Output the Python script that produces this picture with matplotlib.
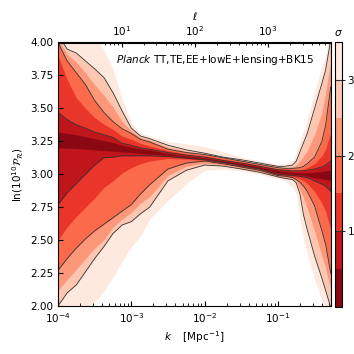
import matplotlib
matplotlib.use("Agg")
import matplotlib.pyplot as plt
import numpy as np
from matplotlib.colors import ListedColormap, BoundaryNorm
from matplotlib.cm import ScalarMappable
from matplotlib.ticker import LogLocator, NullFormatter, FormatStrFormatter

plt.rcParams["font.size"] = 7.5
plt.rcParams["mathtext.fontset"] = "dejavusans"

# log10 of the k nodes [Mpc^-1]
logk = [-4, -3.875, -3.75, -3.625, -3.5, -3.375, -3.25, -3.125, -3, -2.875,
        -2.75, -2.5, -2.25, -2, -1.75, -1.5, -1.25, -1, -0.9, -0.8, -0.75,
        -0.7, -0.65, -0.6, -0.5, -0.4, -0.35, -0.28]

# upper edges of the sigma regions, ln(10^10 P_R)
up05 = [3.32, 3.31, 3.30, 3.285, 3.27, 3.255, 3.24, 3.22, 3.205, 3.192,
        3.185, 3.158, 3.138, 3.125, 3.10, 3.08, 3.055, 3.03, 3.02, 3.015,
        3.012, 3.01, 3.01, 3.01, 3.015, 3.02, 3.025, 3.03]
up10 = [3.47, 3.415, 3.375, 3.35, 3.32, 3.30, 3.28, 3.235, 3.22, 3.20,
        3.19, 3.165, 3.145, 3.13, 3.105, 3.085, 3.06, 3.035, 3.03, 3.025,
        3.025, 3.025, 3.027, 3.03, 3.04, 3.055, 3.07, 3.10]
up15 = [3.90, 3.72, 3.58, 3.50, 3.43, 3.38, 3.34, 3.29, 3.265, 3.235,
        3.215, 3.18, 3.155, 3.14, 3.115, 3.093, 3.068, 3.04, 3.04, 3.035,
        3.035, 3.035, 3.04, 3.05, 3.08, 3.14, 3.19, 3.32]
up20 = [4.0, 3.86, 3.77, 3.68, 3.56, 3.47, 3.40, 3.345, 3.31, 3.265,
        3.245, 3.19, 3.165, 3.15, 3.125, 3.10, 3.075, 3.05, 3.045, 3.045,
        3.047, 3.05, 3.06, 3.08, 3.13, 3.25, 3.37, 3.66]
up25 = [4.03, 3.91, 3.85, 3.77, 3.68, 3.60, 3.51, 3.40, 3.33, 3.278,
        3.26, 3.205, 3.175, 3.155, 3.128, 3.105, 3.08, 3.055, 3.05, 3.055,
        3.07, 3.10, 3.14, 3.18, 3.30, 3.47, 3.62, 3.85]
up30 = [4.06, 3.95, 3.92, 3.86, 3.80, 3.735, 3.62, 3.48, 3.35, 3.29,
        3.27, 3.22, 3.185, 3.16, 3.13, 3.11, 3.085, 3.06, 3.06, 3.07,
        3.10, 3.17, 3.24, 3.31, 3.50, 3.69, 3.79, 4.02]
up35 = [4.2, 4.2, 4.15, 4.1, 4.05, 3.94, 3.80, 3.57, 3.39, 3.31,
        3.29, 3.25, 3.23, 3.21, 3.17, 3.13, 3.10, 3.08, 3.08, 3.10,
        3.16, 3.25, 3.33, 3.42, 3.62, 3.82, 3.90, 4.1]

# lower edges
lo05 = [3.20, 3.198, 3.195, 3.19, 3.185, 3.18, 3.175, 3.17, 3.165, 3.158,
        3.152, 3.145, 3.132, 3.118, 3.095, 3.07, 3.045, 3.01, 3.005, 3.0,
        2.998, 2.995, 2.99, 2.985, 2.975, 2.965, 2.96, 2.955]
lo10 = [2.77, 2.86, 2.93, 3.0, 3.07, 3.125, 3.13, 3.14, 3.14, 3.14,
        3.14, 3.135, 3.122, 3.11, 3.09, 3.065, 3.04, 3.0, 2.995, 2.99,
        2.988, 2.985, 2.98, 2.975, 2.95, 2.925, 2.91, 2.87]
lo15 = [2.50, 2.60, 2.68, 2.75, 2.82, 2.90, 2.95, 3.01, 3.05, 3.08,
        3.10, 3.12, 3.115, 3.105, 3.085, 3.06, 3.035, 2.995, 2.99, 2.98,
        2.975, 2.965, 2.95, 2.93, 2.87, 2.78, 2.72, 2.58]
lo20 = [2.27, 2.36, 2.44, 2.51, 2.57, 2.62, 2.67, 2.72, 2.77, 2.85,
        2.92, 3.04, 3.085, 3.10, 3.08, 3.055, 3.03, 2.99, 2.985, 2.975,
        2.96, 2.94, 2.91, 2.87, 2.76, 2.57, 2.47, 2.25]
lo25 = [2.12, 2.20, 2.28, 2.36, 2.44, 2.50, 2.60, 2.66, 2.71, 2.78,
        2.83, 2.99, 3.06, 3.085, 3.07, 3.048, 3.022, 2.985, 2.975, 2.97,
        2.95, 2.88, 2.82, 2.74, 2.57, 2.38, 2.29, 2.12]
lo30 = [2.0, 2.10, 2.16, 2.26, 2.36, 2.45, 2.55, 2.615, 2.64, 2.70,
        2.75, 2.95, 3.03, 3.07, 3.062, 3.04, 3.015, 2.98, 2.968, 2.96,
        2.935, 2.85, 2.69, 2.58, 2.38, 2.21, 2.12, 1.99]
lo35 = [1.9, 1.9, 1.95, 1.98, 2.03, 2.11, 2.22, 2.34, 2.45, 2.53,
        2.66, 2.80, 2.93, 3.03, 3.04, 3.025, 3.0, 2.965, 2.95, 2.90,
        2.85, 2.68, 2.50, 2.40, 2.20, 2.05, 1.98, 1.9]

sigma_levels = [0, 0.5, 1, 1.5, 2, 2.5, 3, 3.5]
upper = [up05, up10, up15, up20, up25, up30, up35]
lower = [lo05, lo10, lo15, lo20, lo25, lo30, lo35]

k = 10 ** np.array(logk)

reds = plt.get_cmap("Reds_r")
colors = [reds((i + 0.5) / 7) for i in range(7)]

fig = plt.figure(figsize=(3.54, 3.54), dpi=100)
ax = fig.add_axes([58 / 354, 48 / 354, 273 / 354, 263.5 / 354])
cax = fig.add_axes([335 / 354, 47 / 354, 7 / 354, 265 / 354])

for i in range(6, -1, -1):
    ax.fill_between(k, lower[i], upper[i], color=colors[i], lw=0)

for i in (1, 3, 5):
    ax.plot(k, upper[i], color="#333333", lw=0.6)
    ax.plot(k, lower[i], color="#333333", lw=0.6)

ax.set_xscale("log")
ax.set_xlim(1e-4, 0.53)
ax.set_ylim(2.0, 4.0)
ax.set_yticks(np.arange(2.0, 4.01, 0.25))
ax.yaxis.set_major_formatter(FormatStrFormatter("%.2f"))
ax.tick_params(which="both", direction="in", top=False, right=False)
ax.tick_params(which="major", length=3.5)
ax.tick_params(which="minor", length=2)
ax.set_xlabel(r"$k\quad\;[\mathrm{Mpc}^{-1}]$", labelpad=3)
ax.set_ylabel(r"$\ln(10^{10}\mathcal{P}_\mathcal{R})$", labelpad=3)

D = 13600.0
top = ax.secondary_xaxis("top", functions=(lambda x: x * D, lambda l: l / D))
top.set_xticks([10, 100, 1000])
top.xaxis.set_minor_locator(LogLocator(base=10, subs=np.arange(2, 10)))
top.xaxis.set_minor_formatter(NullFormatter())
top.tick_params(which="both", direction="in")
top.tick_params(which="major", length=3.5)
top.tick_params(which="minor", length=2)
top.set_xlabel(r"$\ell$", labelpad=3)

ax.text(0.212, 0.934, r"$\mathit{Planck}$ TT,TE,EE+lowE+lensing+BK15",
        transform=ax.transAxes, ha="left", va="center")

cmap = ListedColormap(colors)
norm = BoundaryNorm(sigma_levels, cmap.N)
cb = fig.colorbar(ScalarMappable(norm=norm, cmap=cmap), cax=cax,
                  ticks=[1, 2, 3])
cb.ax.minorticks_off()
cb.ax.set_yticklabels(["1", "2", "3"])
cb.ax.tick_params(length=2.5, pad=1.5, width=0.6)
cb.outline.set_linewidth(0.8)
for s in (1, 2, 3):
    cb.ax.axhline(s, color="#333333", lw=0.8)
cb.ax.set_title(r"$\sigma$", fontsize=7.5, pad=4)

fig.savefig("out.png", dpi=100)
